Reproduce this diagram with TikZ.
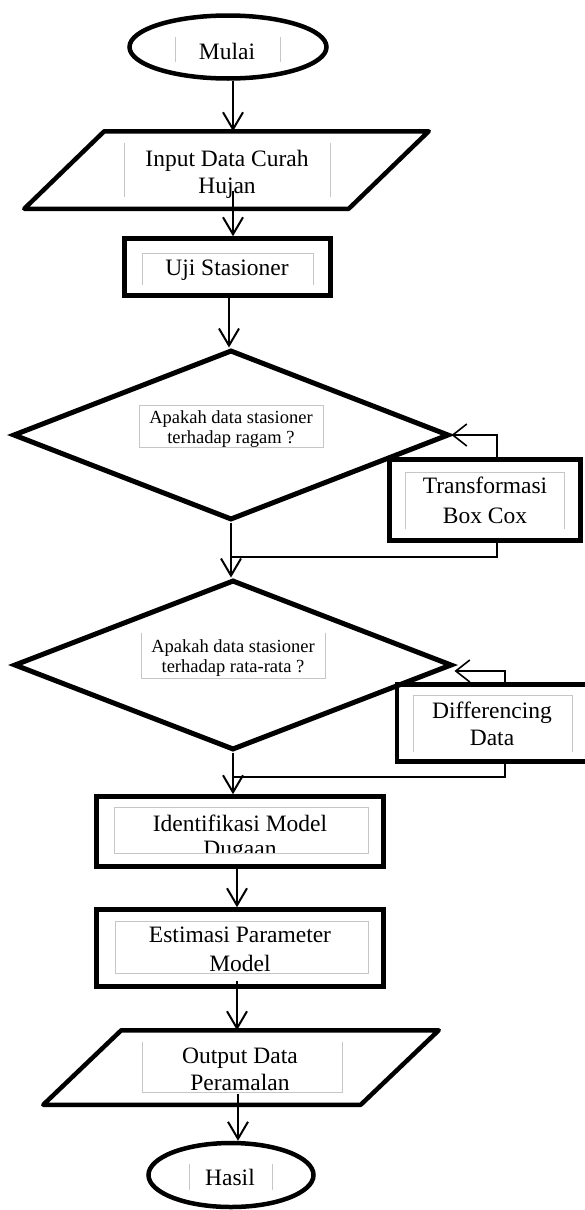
\documentclass[tikz,border=0pt]{standalone}
\usepackage{fontspec}
\setmainfont{Liberation Serif}
\usetikzlibrary{shapes.geometric,arrows.meta}

\begin{document}
\begin{tikzpicture}[x=1pt,y=-1pt,
    every node/.style={inner sep=0pt},
    shp/.style={draw,line width=4.5pt},
    term/.style={shp,ellipse},
    io/.style={rectangle,outer sep=2.25pt},
    proc/.style={shp,rectangle},
    dec/.style={shp,diamond,line width=5pt},
    txt/.style={anchor=north,align=center,font=\fontsize{23.5}{27}\selectfont},
    qtxt/.style={anchor=north,align=center,font=\fontsize{18.5}{20}\selectfont},
    frame/.style={draw=gray!45,line width=0.9pt},
    arr/.style={line width=2pt,-{Straight Barb[length=17pt,width=20pt]}},
    back/.style={line width=1.6pt},
    looparr/.style={back,-{Straight Barb[length=14pt,width=22pt]}}]

  \useasboundingbox (0,0) rectangle (585,1210);

  \node[term,minimum width=197pt,minimum height=63pt] (mulai) at (228,47) {};
  \node[io,minimum width=320pt,minimum height=73pt] (inp) at (226.5,170) {};
  \draw[shp,line join=round] ([xshift=40pt]inp.north west) -- ([xshift=40pt]inp.north east)
    -- ([xshift=-40pt]inp.south east) -- ([xshift=-40pt]inp.south west) -- cycle;
  \node[proc,minimum width=206pt,minimum height=57pt] (uji) at (227.5,267) {};
  \node[dec,minimum width=436pt,minimum height=170pt] (d1) at (231,435) {};
  \node[proc,minimum width=191pt,minimum height=81pt] (tbc) at (485,500) {};
  \node[dec,minimum width=438pt,minimum height=170pt] (d2) at (233,665) {};
  \node[proc,minimum width=190pt,minimum height=77pt] (dif) at (492,723) {};
  \node[proc,minimum width=287pt,minimum height=70pt] (ident) at (240,831.5) {};
  \node[proc,minimum width=287pt,minimum height=77pt] (est) at (240,948) {};
  \node[io,minimum width=313pt,minimum height=70pt] (out) at (241,1067.5) {};
  \draw[shp,line join=round] ([xshift=39pt]out.north west) -- ([xshift=39pt]out.north east)
    -- ([xshift=-39pt]out.south east) -- ([xshift=-39pt]out.south west) -- cycle;
  \node[term,minimum width=165pt,minimum height=64pt] (hasil) at (231,1175) {};

  \node[txt] (tmulai) at (227,43) {Mulai};
  \node[txt] (tinp) at (227,150) {Input Data Curah\\Hujan};
  \node[txt] (tuji) at (227,260) {Uji Stasioner};
  \node[qtxt] (td1) at (231,410) {Apakah data stasioner\\terhadap ragam ?};
  \node[txt,font=\fontsize{23.5}{30}\selectfont] (ttbc) at (485,477) {Transformasi\\Box Cox};
  \node[qtxt] (td2) at (233,639) {Apakah data stasioner\\terhadap rata-rata ?};
  \node[txt] (tdif) at (492,702) {Differencing\\Data};
  \begin{scope}
    \clip (114,807) rectangle (368,853);
    \node[txt,font=\fontsize{23.5}{25}\selectfont] (tident) at (240,815) {Identifikasi Model\\Dugaan};
  \end{scope}
  \node[txt,font=\fontsize{23.5}{29}\selectfont] (test) at (240,927) {Estimasi Parameter\\Model};
  \begin{scope}
    \clip (142,1030) rectangle (342,1092);
    \node[txt] (tout) at (240,1048) {Output Data\\Peramalan};
  \end{scope}
  \node[txt] (thasil) at (230,1169) {Hasil};

  \draw[frame] (175,37) -- (175,62) (280,37) -- (280,62);
  \draw[frame] (124,143) -- (124,197) (330,143) -- (330,197);
  \draw[frame] (142,285) |- (313,253) -- (313,285);
  \draw[frame] (139,405) rectangle (323,447);
  \draw[frame] (405,529) |- (564,472) -- (564,529);
  \draw[frame] (141,633) |- (325,678) -- (325,633);
  \draw[frame] (413,752) |- (572,695) -- (572,752);
  \draw[frame] (114,807) rectangle (368,853);
  \draw[frame] (115,921) rectangle (368,973);
  \draw[frame] (142,1042) |- (342,1092) -- (342,1042);
  \draw[frame] (189,1164) -- (189,1190) (272,1164) -- (272,1190);

  \coordinate (j1) at (231,557);
  \coordinate (j2) at (233,777);

  \draw[arr] ([xshift=5pt]mulai.south) -- ([xshift=6.5pt]inp.north);
  \draw[arr] ([xshift=6.5pt,yshift=18pt]inp.south) -- ([xshift=5.5pt]uji.north);
  \draw[arr] ([xshift=1.5pt]uji.south) -- ([xshift=-2pt]d1.north);
  \draw[arr] (d1.south) -- ([xshift=-2pt]d2.north);
  \draw[arr] (d2.south) -- ([xshift=-7pt]ident.north);
  \draw[arr] ([xshift=-3pt]ident.south) -- ([xshift=-3pt]est.north);
  \draw[arr] ([xshift=-3pt,yshift=8pt]est.south) -- ([xshift=-4pt]out.north);
  \draw[arr] ([xshift=-3pt,yshift=11pt]out.south) -- ([xshift=7pt]hasil.north);

  \draw[looparr] ([xshift=12pt]tbc.north) |- (d1.east);
  \draw[back] ([xshift=12pt]tbc.south) |- (j1);
  \draw[looparr] ([xshift=13pt]dif.north) |- ([yshift=-6pt]d2.east);
  \draw[back] ([xshift=13pt]dif.south) |- (j2);
\end{tikzpicture}
\end{document}
